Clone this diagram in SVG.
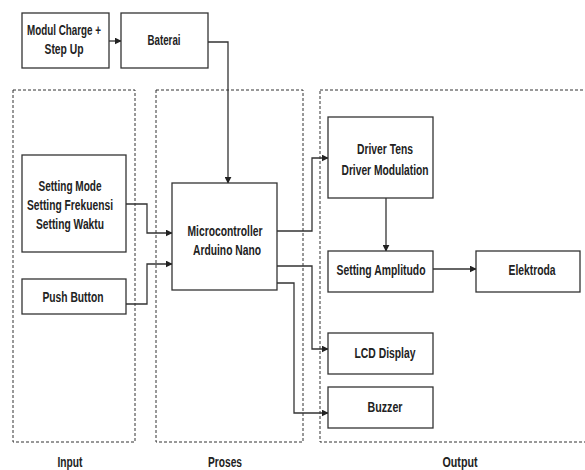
<svg xmlns="http://www.w3.org/2000/svg" width="585" height="470" viewBox="0 0 585 470">
<style>
.box{fill:#fff;stroke:#333;stroke-width:1.3}
.grp{fill:none;stroke:#333;stroke-width:1;stroke-dasharray:3 2}
.t{font-family:"Liberation Sans",Arial,sans-serif;font-size:14.5px;font-weight:bold;fill:#222;text-anchor:middle}
.c{fill:none;stroke:#333;stroke-width:1.3}
</style>
<defs>
<marker id="ah" viewBox="0 0 10 10" refX="9" refY="5" markerWidth="7" markerHeight="7" markerUnits="userSpaceOnUse" orient="auto">
<path d="M0,0 L10,5 L0,10 Z" fill="#222"/>
</marker>
</defs>
<g id="groups">
<rect class="grp" x="13" y="90" width="122" height="352"/>
<rect class="grp" x="156" y="90" width="147" height="352"/>
<rect class="grp" x="320" y="90" width="275" height="352"/>
<text class="t" x="70" y="467" textLength="25" lengthAdjust="spacingAndGlyphs">Input</text>
<text class="t" x="225" y="467" textLength="34" lengthAdjust="spacingAndGlyphs">Proses</text>
<text class="t" x="460" y="467" textLength="35" lengthAdjust="spacingAndGlyphs">Output</text>
</g>
<g id="connectors">
<path class="c" d="M109,41 H121" marker-end="url(#ah)"/>
<path class="c" d="M208,42 H228 V183" marker-end="url(#ah)"/>
<path class="c" d="M126,204 H147 V233 H172" marker-end="url(#ah)"/>
<path class="c" d="M126,304 H147 V264 H172" marker-end="url(#ah)"/>
<path class="c" d="M277,231 H312 V158 H328" marker-end="url(#ah)"/>
<path class="c" d="M386,198 V251" marker-end="url(#ah)"/>
<path class="c" d="M433,269 H476" marker-end="url(#ah)"/>
<path class="c" d="M277,266 H312 V349 H328" marker-end="url(#ah)"/>
<path class="c" d="M277,283 H294 V413 H328" marker-end="url(#ah)"/>
</g>
<g id="modul">
<rect class="box" x="22" y="13" width="87" height="55"/>
<text class="t" x="64" y="35" textLength="74" lengthAdjust="spacingAndGlyphs">Modul Charge +</text>
<text class="t" x="64" y="54" textLength="39" lengthAdjust="spacingAndGlyphs">Step Up</text>
</g>
<g id="baterai">
<rect class="box" x="121" y="13" width="87" height="55"/>
<text class="t" x="164" y="45" textLength="33" lengthAdjust="spacingAndGlyphs">Baterai</text>
</g>
<g id="setting">
<rect class="box" x="22" y="155" width="104" height="97"/>
<text class="t" x="70" y="191" textLength="63" lengthAdjust="spacingAndGlyphs">Setting Mode</text>
<text class="t" x="70" y="210" textLength="86" lengthAdjust="spacingAndGlyphs">Setting Frekuensi</text>
<text class="t" x="70" y="229" textLength="68" lengthAdjust="spacingAndGlyphs">Setting Waktu</text>
</g>
<g id="push">
<rect class="box" x="22" y="279" width="104" height="35"/>
<text class="t" x="73" y="302" textLength="61" lengthAdjust="spacingAndGlyphs">Push Button</text>
</g>
<g id="micro">
<rect class="box" x="172" y="183" width="105" height="107"/>
<text class="t" x="225" y="236" textLength="75" lengthAdjust="spacingAndGlyphs">Microcontroller</text>
<text class="t" x="227" y="255" textLength="68" lengthAdjust="spacingAndGlyphs">Arduino Nano</text>
</g>
<g id="driver">
<rect class="box" x="328" y="117" width="105" height="81"/>
<text class="t" x="385" y="154" textLength="56" lengthAdjust="spacingAndGlyphs">Driver Tens</text>
<text class="t" x="385" y="175" textLength="87" lengthAdjust="spacingAndGlyphs">Driver Modulation</text>
</g>
<g id="amplitudo">
<rect class="box" x="328" y="251" width="105" height="41"/>
<text class="t" x="381" y="275" textLength="89" lengthAdjust="spacingAndGlyphs">Setting Amplitudo</text>
</g>
<g id="elektroda">
<rect class="box" x="476" y="251" width="104" height="41"/>
<text class="t" x="532" y="275" textLength="47" lengthAdjust="spacingAndGlyphs">Elektroda</text>
</g>
<g id="lcd">
<rect class="box" x="328" y="333" width="105" height="41"/>
<text class="t" x="385" y="358" textLength="61" lengthAdjust="spacingAndGlyphs">LCD Display</text>
</g>
<g id="buzzer">
<rect class="box" x="328" y="387" width="105" height="41"/>
<text class="t" x="385" y="412" textLength="35" lengthAdjust="spacingAndGlyphs">Buzzer</text>
</g>
</svg>
